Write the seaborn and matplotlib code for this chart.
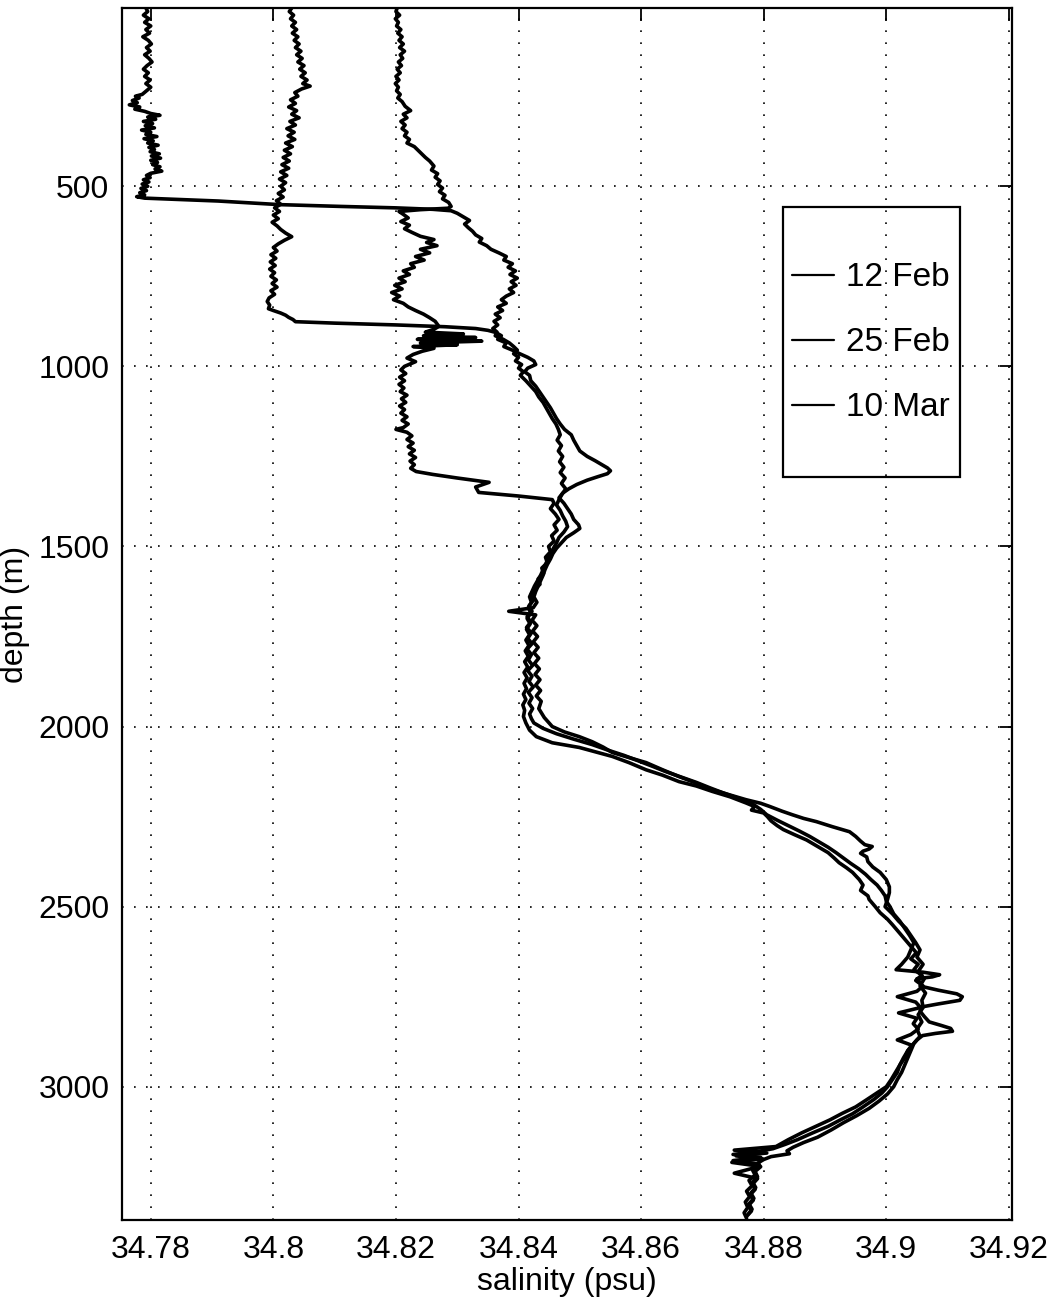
import matplotlib
matplotlib.use("Agg")
import matplotlib.pyplot as plt
from matplotlib.patches import Rectangle
import pandas as pd
import seaborn as sns

# ---------------------------------------------------------------------------
# Salinity profiles: (depth in m, salinity in psu), one per survey date
# ---------------------------------------------------------------------------
dates = ["12 Feb", "25 Feb", "10 Mar"]

profile_12feb = [
    (5, 34.7792), (15, 34.7795), (25, 34.7788), (35, 34.7797), (45, 34.7790), (55, 34.7800),
    (65, 34.7792), (75, 34.7798), (85, 34.7787), (95, 34.7796), (105, 34.7801), (115, 34.7793),
    (125, 34.7799), (135, 34.7790), (145, 34.7797), (155, 34.7802), (165, 34.7794), (175, 34.7788),
    (185, 34.7796), (195, 34.7790), (205, 34.7799), (215, 34.7792), (225, 34.7800), (235, 34.7793),
    (245, 34.7786), (250, 34.7775), (255, 34.7781), (262, 34.7770), (268, 34.7778), (274, 34.7765),
    (280, 34.7782), (286, 34.7774), (292, 34.7790), (298, 34.7800), (303, 34.7815), (308, 34.7795),
    (314, 34.7808), (320, 34.7788), (326, 34.7803), (332, 34.7791), (338, 34.7806), (344, 34.7785),
    (350, 34.7800), (356, 34.7792), (362, 34.7810), (368, 34.7789), (374, 34.7804), (380, 34.7795),
    (386, 34.7812), (392, 34.7797), (398, 34.7806), (404, 34.7799), (410, 34.7814), (416, 34.7801),
    (422, 34.7816), (428, 34.7800), (434, 34.7811), (440, 34.7803), (446, 34.7815), (452, 34.7807),
    (458, 34.7818), (464, 34.7800), (470, 34.7793), (476, 34.7799), (482, 34.7788), (488, 34.7797),
    (494, 34.7786), (500, 34.7795), (506, 34.7784), (512, 34.7793), (518, 34.7782), (524, 34.7790),
    (529, 34.7777), (533, 34.7790), (537, 34.7850), (541, 34.7910), (546, 34.7960), (551, 34.8010),
    (556, 34.8110), (560, 34.8200), (564, 34.8260), (568, 34.8290), (575, 34.8300), (585, 34.8310),
    (595, 34.8320), (605, 34.8312), (615, 34.8318), (625, 34.8325), (635, 34.8330), (645, 34.8340),
    (655, 34.8336), (665, 34.8348), (675, 34.8355), (685, 34.8368), (695, 34.8380), (705, 34.8376),
    (715, 34.8390), (725, 34.8383), (735, 34.8395), (745, 34.8386), (755, 34.8398), (765, 34.8388),
    (775, 34.8396), (785, 34.8385), (795, 34.8392), (805, 34.8380), (815, 34.8372), (825, 34.8380),
    (835, 34.8366), (845, 34.8374), (855, 34.8362), (865, 34.8370), (875, 34.8360), (885, 34.8366),
    (895, 34.8358), (905, 34.8365), (915, 34.8362), (925, 34.8375), (935, 34.8385), (945, 34.8392),
    (955, 34.8398), (965, 34.8392), (975, 34.8400), (985, 34.8395), (995, 34.8405), (1005, 34.8400),
    (1015, 34.8408), (1025, 34.8403), (1040, 34.8412), (1055, 34.8420), (1070, 34.8428),
    (1085, 34.8433), (1100, 34.8440), (1115, 34.8445), (1130, 34.8450), (1145, 34.8455),
    (1160, 34.8461), (1175, 34.8465), (1190, 34.8468), (1205, 34.8463), (1220, 34.8470),
    (1235, 34.8465), (1250, 34.8472), (1265, 34.8467), (1280, 34.8474), (1295, 34.8468),
    (1310, 34.8476), (1325, 34.8470), (1340, 34.8477), (1355, 34.8471), (1370, 34.8466),
    (1385, 34.8462), (1400, 34.8468), (1415, 34.8472), (1430, 34.8477), (1445, 34.8480),
    (1460, 34.8474), (1475, 34.8466), (1490, 34.8462), (1505, 34.8457), (1520, 34.8452),
    (1535, 34.8448), (1550, 34.8444), (1565, 34.8440), (1580, 34.8436), (1595, 34.8431),
    (1610, 34.8426), (1625, 34.8422), (1640, 34.8418), (1655, 34.8421), (1670, 34.8416),
    (1685, 34.8420), (1700, 34.8414), (1715, 34.8419), (1730, 34.8413), (1745, 34.8418),
    (1760, 34.8412), (1775, 34.8417), (1790, 34.8411), (1805, 34.8416), (1820, 34.8410),
    (1835, 34.8415), (1850, 34.8409), (1865, 34.8414), (1880, 34.8409), (1895, 34.8413),
    (1910, 34.8408), (1925, 34.8412), (1940, 34.8407), (1955, 34.8410), (1972, 34.8408),
    (1990, 34.8412), (2010, 34.8418), (2028, 34.8429), (2045, 34.8455), (2058, 34.8499),
    (2070, 34.8525), (2083, 34.8553), (2100, 34.8580), (2120, 34.8608), (2135, 34.8635),
    (2153, 34.8662), (2165, 34.8690), (2180, 34.8716), (2195, 34.8745), (2212, 34.8771),
    (2222, 34.8785), (2232, 34.8780), (2240, 34.8800), (2250, 34.8806), (2262, 34.8812),
    (2275, 34.8822), (2286, 34.8832), (2300, 34.8850), (2315, 34.8870), (2333, 34.8888),
    (2350, 34.8905), (2365, 34.8915), (2378, 34.8923), (2392, 34.8935), (2405, 34.8945),
    (2425, 34.8956), (2440, 34.8962), (2455, 34.8958), (2470, 34.8970), (2480, 34.8972),
    (2500, 34.8982), (2517, 34.8990), (2535, 34.9002), (2550, 34.9010), (2572, 34.9021),
    (2590, 34.9030), (2610, 34.9040), (2628, 34.9049), (2645, 34.9040), (2660, 34.9052),
    (2675, 34.9045), (2690, 34.9058), (2705, 34.9048), (2720, 34.9060), (2735, 34.9050),
    (2750, 34.9018), (2765, 34.9048), (2780, 34.9056), (2795, 34.9020), (2810, 34.9050),
    (2825, 34.9044), (2840, 34.9052), (2855, 34.9040), (2870, 34.9018), (2885, 34.9042),
    (2900, 34.9035), (2920, 34.9030), (2940, 34.9022), (2960, 34.9018), (2980, 34.9010),
    (3000, 34.9002), (3017, 34.8993), (3035, 34.8980), (3056, 34.8962), (3075, 34.8945),
    (3092, 34.8925), (3110, 34.8905), (3128, 34.8880), (3147, 34.8855), (3160, 34.8835),
    (3172, 34.8815), (3180, 34.8790), (3188, 34.8750), (3196, 34.8795), (3205, 34.8750),
    (3215, 34.8792), (3225, 34.8785), (3240, 34.8752), (3255, 34.8790), (3270, 34.8782),
    (3285, 34.8786), (3300, 34.8778), (3315, 34.8783), (3330, 34.8775), (3345, 34.8780),
    (3360, 34.8772),
]

profile_25feb = [
    (5, 34.8030), (15, 34.8026), (25, 34.8033), (35, 34.8028), (45, 34.8036), (55, 34.8030),
    (65, 34.8038), (75, 34.8031), (85, 34.8040), (95, 34.8034), (105, 34.8042), (115, 34.8036),
    (125, 34.8045), (135, 34.8038), (145, 34.8047), (155, 34.8040), (165, 34.8050), (175, 34.8043),
    (185, 34.8052), (195, 34.8045), (205, 34.8055), (215, 34.8048), (222, 34.8060), (230, 34.8046),
    (240, 34.8035), (250, 34.8040), (260, 34.8028), (270, 34.8036), (280, 34.8025), (290, 34.8038),
    (300, 34.8030), (310, 34.8042), (320, 34.8027), (330, 34.8036), (340, 34.8022), (350, 34.8034),
    (360, 34.8024), (370, 34.8035), (380, 34.8020), (390, 34.8031), (400, 34.8018), (410, 34.8028),
    (420, 34.8016), (430, 34.8026), (440, 34.8014), (450, 34.8025), (460, 34.8012), (470, 34.8022),
    (480, 34.8010), (490, 34.8020), (500, 34.8012), (510, 34.8018), (520, 34.8008), (530, 34.8016),
    (540, 34.8005), (550, 34.8012), (560, 34.8002), (570, 34.8010), (580, 34.8000), (590, 34.8008),
    (600, 34.7998), (610, 34.8006), (620, 34.8012), (630, 34.8020), (640, 34.8030), (650, 34.8018),
    (660, 34.8008), (670, 34.8000), (680, 34.8006), (690, 34.7996), (700, 34.8004), (710, 34.7995),
    (720, 34.8003), (730, 34.7994), (740, 34.8002), (750, 34.7996), (760, 34.8005), (770, 34.7998),
    (780, 34.8006), (790, 34.7996), (800, 34.8002), (810, 34.7993), (820, 34.7990), (830, 34.7994),
    (840, 34.7992), (845, 34.8000), (852, 34.8012), (858, 34.8020), (864, 34.8025), (870, 34.8032),
    (876, 34.8036), (880, 34.8100), (885, 34.8200), (890, 34.8280), (895, 34.8330), (900, 34.8350),
    (906, 34.8363), (915, 34.8372), (925, 34.8366), (935, 34.8380), (945, 34.8376), (955, 34.8390),
    (965, 34.8402), (975, 34.8415), (985, 34.8425), (995, 34.8428), (1005, 34.8415), (1015, 34.8410),
    (1025, 34.8418), (1040, 34.8420), (1055, 34.8428), (1070, 34.8434), (1085, 34.8440),
    (1100, 34.8446), (1115, 34.8452), (1130, 34.8457), (1145, 34.8462), (1160, 34.8468),
    (1175, 34.8475), (1190, 34.8486), (1205, 34.8490), (1220, 34.8495), (1235, 34.8500),
    (1250, 34.8512), (1262, 34.8525), (1272, 34.8535), (1282, 34.8545), (1290, 34.8550),
    (1298, 34.8545), (1306, 34.8530), (1316, 34.8512), (1328, 34.8495), (1340, 34.8482),
    (1352, 34.8472), (1365, 34.8466), (1380, 34.8474), (1395, 34.8480), (1410, 34.8486),
    (1425, 34.8490), (1440, 34.8498), (1450, 34.8500), (1462, 34.8490), (1475, 34.8478),
    (1490, 34.8470), (1505, 34.8462), (1520, 34.8456), (1535, 34.8452), (1550, 34.8447),
    (1565, 34.8443), (1580, 34.8440), (1595, 34.8436), (1610, 34.8432), (1625, 34.8428),
    (1640, 34.8425), (1655, 34.8430), (1670, 34.8424), (1680, 34.8384), (1690, 34.8428),
    (1705, 34.8422), (1720, 34.8430), (1735, 34.8423), (1750, 34.8431), (1765, 34.8424),
    (1780, 34.8432), (1795, 34.8425), (1810, 34.8433), (1825, 34.8426), (1840, 34.8434),
    (1855, 34.8427), (1870, 34.8435), (1885, 34.8428), (1900, 34.8436), (1915, 34.8429),
    (1930, 34.8437), (1950, 34.8433), (1975, 34.8442), (2000, 34.8455), (2015, 34.8475),
    (2028, 34.8499), (2042, 34.8520), (2057, 34.8538), (2072, 34.8553), (2086, 34.8580),
    (2100, 34.8608), (2120, 34.8635), (2139, 34.8662), (2157, 34.8690), (2175, 34.8716),
    (2190, 34.8745), (2203, 34.8771), (2213, 34.8795), (2222, 34.8810), (2235, 34.8830),
    (2245, 34.8847), (2255, 34.8865), (2264, 34.8886), (2278, 34.8912), (2292, 34.8940),
    (2305, 34.8950), (2318, 34.8958), (2328, 34.8965), (2333, 34.8977), (2340, 34.8972),
    (2346, 34.8962), (2352, 34.8958), (2362, 34.8968), (2375, 34.8970), (2390, 34.8978),
    (2405, 34.8990), (2425, 34.9000), (2445, 34.9005), (2461, 34.9005), (2480, 34.9002),
    (2500, 34.8998), (2520, 34.9010), (2540, 34.9020), (2560, 34.9032), (2580, 34.9040),
    (2600, 34.9048), (2620, 34.9055), (2640, 34.9050), (2660, 34.9060), (2680, 34.9052),
    (2700, 34.9062), (2720, 34.9055), (2740, 34.9064), (2760, 34.9058), (2780, 34.9060),
    (2800, 34.9052), (2820, 34.9058), (2840, 34.9050), (2860, 34.9055), (2880, 34.9045),
    (2900, 34.9040), (2920, 34.9035), (2940, 34.9030), (2960, 34.9025), (2980, 34.9018),
    (3000, 34.9012), (3020, 34.9002), (3040, 34.8988), (3060, 34.8972), (3080, 34.8952),
    (3100, 34.8930), (3120, 34.8910), (3140, 34.8888), (3155, 34.8865), (3168, 34.8848),
    (3178, 34.8838), (3186, 34.8842), (3194, 34.8812), (3202, 34.8800), (3212, 34.8790),
    (3222, 34.8795), (3235, 34.8786), (3250, 34.8790), (3265, 34.8782), (3280, 34.8787),
    (3295, 34.8779), (3310, 34.8784), (3325, 34.8776), (3340, 34.8781), (3355, 34.8774),
]

profile_10mar = [
    (5, 34.8202), (15, 34.8200), (25, 34.8206), (35, 34.8199), (45, 34.8204), (55, 34.8201),
    (65, 34.8208), (75, 34.8203), (85, 34.8210), (95, 34.8205), (105, 34.8212), (115, 34.8206),
    (125, 34.8214), (135, 34.8207), (145, 34.8211), (155, 34.8204), (165, 34.8209), (175, 34.8202),
    (185, 34.8207), (195, 34.8200), (205, 34.8205), (215, 34.8199), (225, 34.8204), (235, 34.8201),
    (245, 34.8207), (255, 34.8203), (265, 34.8210), (278, 34.8215), (290, 34.8224), (300, 34.8212),
    (310, 34.8218), (320, 34.8208), (330, 34.8215), (340, 34.8210), (350, 34.8218), (360, 34.8214),
    (370, 34.8222), (380, 34.8218), (390, 34.8230), (400, 34.8236), (410, 34.8242), (420, 34.8248),
    (430, 34.8255), (444, 34.8262), (455, 34.8258), (465, 34.8268), (475, 34.8264), (485, 34.8272),
    (495, 34.8268), (505, 34.8276), (515, 34.8271), (525, 34.8280), (535, 34.8276), (545, 34.8286),
    (556, 34.8290), (561, 34.8285), (565, 34.8240), (570, 34.8205), (578, 34.8212), (588, 34.8220),
    (598, 34.8208), (608, 34.8222), (618, 34.8214), (628, 34.8226), (639, 34.8240), (648, 34.8262),
    (656, 34.8250), (665, 34.8267), (675, 34.8240), (685, 34.8255), (695, 34.8232), (705, 34.8246),
    (715, 34.8224), (725, 34.8230), (735, 34.8212), (745, 34.8222), (755, 34.8205), (765, 34.8215),
    (775, 34.8198), (785, 34.8210), (795, 34.8193), (805, 34.8206), (815, 34.8196), (825, 34.8212),
    (835, 34.8220), (845, 34.8232), (855, 34.8245), (865, 34.8255), (875, 34.8264), (889, 34.8270),
    (897, 34.8262), (905, 34.8248), (910, 34.8310), (915, 34.8245), (920, 34.8330), (925, 34.8235),
    (930, 34.8340), (935, 34.8240), (940, 34.8300), (945, 34.8228), (950, 34.8262), (958, 34.8243),
    (967, 34.8228), (977, 34.8218), (987, 34.8232), (1000, 34.8214), (1010, 34.8208), (1020, 34.8216),
    (1030, 34.8206), (1040, 34.8214), (1050, 34.8205), (1060, 34.8213), (1070, 34.8207),
    (1080, 34.8218), (1090, 34.8209), (1100, 34.8216), (1110, 34.8206), (1120, 34.8214),
    (1130, 34.8208), (1140, 34.8218), (1150, 34.8210), (1160, 34.8220), (1170, 34.8212),
    (1175, 34.8200), (1183, 34.8218), (1193, 34.8226), (1203, 34.8218), (1213, 34.8228),
    (1223, 34.8220), (1233, 34.8230), (1243, 34.8222), (1253, 34.8232), (1263, 34.8223),
    (1273, 34.8230), (1283, 34.8224), (1292, 34.8233), (1300, 34.8260), (1310, 34.8300),
    (1322, 34.8352), (1335, 34.8330), (1350, 34.8335), (1360, 34.8400), (1370, 34.8455),
    (1380, 34.8458), (1395, 34.8452), (1410, 34.8460), (1425, 34.8466), (1440, 34.8458),
    (1455, 34.8463), (1470, 34.8454), (1485, 34.8458), (1500, 34.8449), (1515, 34.8452),
    (1530, 34.8444), (1545, 34.8447), (1560, 34.8438), (1575, 34.8441), (1590, 34.8432),
    (1605, 34.8435), (1620, 34.8426), (1635, 34.8420), (1650, 34.8424), (1665, 34.8417),
    (1680, 34.8422), (1695, 34.8414), (1710, 34.8420), (1725, 34.8413), (1740, 34.8421),
    (1755, 34.8415), (1770, 34.8422), (1785, 34.8414), (1800, 34.8421), (1815, 34.8416),
    (1830, 34.8423), (1845, 34.8415), (1860, 34.8422), (1875, 34.8417), (1890, 34.8424),
    (1905, 34.8416), (1920, 34.8422), (1935, 34.8417), (1950, 34.8423), (1965, 34.8418),
    (1978, 34.8421), (1990, 34.8425), (2005, 34.8440), (2020, 34.8462), (2035, 34.8490),
    (2050, 34.8520), (2065, 34.8545), (2080, 34.8572), (2095, 34.8595), (2110, 34.8618),
    (2125, 34.8640), (2140, 34.8665), (2155, 34.8690), (2170, 34.8712), (2185, 34.8735),
    (2200, 34.8760), (2215, 34.8782), (2230, 34.8795), (2245, 34.8805), (2260, 34.8822),
    (2275, 34.8840), (2290, 34.8858), (2305, 34.8875), (2320, 34.8890), (2335, 34.8905),
    (2350, 34.8918), (2365, 34.8930), (2380, 34.8942), (2395, 34.8955), (2410, 34.8966),
    (2425, 34.8975), (2440, 34.8985), (2455, 34.8992), (2470, 34.8998), (2485, 34.9000),
    (2500, 34.9006), (2520, 34.9012), (2540, 34.9022), (2560, 34.9030), (2580, 34.9038),
    (2600, 34.9045), (2620, 34.9040), (2640, 34.9035), (2660, 34.9025), (2675, 34.9016),
    (2682, 34.9060), (2689, 34.9087), (2695, 34.9075), (2700, 34.9050), (2710, 34.9055),
    (2722, 34.9059), (2732, 34.9085), (2742, 34.9115), (2750, 34.9124), (2760, 34.9120),
    (2770, 34.9085), (2778, 34.9059), (2790, 34.9055), (2805, 34.9062), (2820, 34.9070),
    (2830, 34.9090), (2838, 34.9105), (2846, 34.9108), (2852, 34.9080), (2858, 34.9059),
    (2870, 34.9050), (2885, 34.9042), (2900, 34.9035), (2920, 34.9028), (2940, 34.9022),
    (2960, 34.9015), (2980, 34.9008), (3000, 34.9000), (3017, 34.8985), (3036, 34.8968),
    (3056, 34.8950), (3074, 34.8928), (3092, 34.8908), (3110, 34.8885), (3128, 34.8862),
    (3147, 34.8840), (3166, 34.8820), (3176, 34.8752), (3184, 34.8805), (3192, 34.8755),
    (3200, 34.8798), (3210, 34.8748), (3220, 34.8790), (3232, 34.8782), (3245, 34.8786),
    (3260, 34.8776), (3275, 34.8781), (3290, 34.8772), (3305, 34.8777), (3320, 34.8770),
    (3335, 34.8774), (3350, 34.8768), (3365, 34.8772),
]

x_ticks = [34.78, 34.80, 34.82, 34.84, 34.86, 34.88, 34.90, 34.92]
x_tick_labels = ["34.78", "34.8", "34.82", "34.84", "34.86", "34.88", "34.9", "34.92"]
y_ticks = [500, 1000, 1500, 2000, 2500, 3000]

# ---------------------------------------------------------------------------
frames = []
for name, prof in zip(dates, [profile_12feb, profile_25feb, profile_10mar]):
    d, s = zip(*prof)
    frames.append(pd.DataFrame({"depth": d, "salinity": s, "date": name}))
df = pd.concat(frames, ignore_index=True)

sns.set_style("white")
plt.rcParams["font.family"] = ["Liberation Sans Narrow", "Liberation Sans", "DejaVu Sans"]
plt.rcParams["text.color"] = "black"
plt.rcParams["axes.labelcolor"] = "black"

FS = 23

fig = plt.figure(figsize=(10.55, 13.04), dpi=100)
ax = fig.add_axes([0.1156, 0.0644, 0.8436, 0.9295])

sns.lineplot(data=df, x="salinity", y="depth", hue="date", hue_order=dates,
             palette=["black", "black", "black"], estimator=None, sort=False,
             linewidth=2.6, legend=False, ax=ax)

ax.set_xlim(34.7753, 34.9205)
ax.set_ylim(3370, 5)
ax.set_xticks(x_ticks)
ax.set_xticklabels(x_tick_labels)
ax.set_yticks(y_ticks)
ax.set_yticklabels([str(v) for v in y_ticks])

ax.grid(True, color="black", linestyle=(0, (1, 6.2)), linewidth=1.2)
ax.tick_params(direction="in", length=9, width=1.3, top=True, right=True,
               labelsize=FS, colors="black")
ax.tick_params(axis="x", pad=11)
ax.tick_params(axis="y", pad=9)
for sp in ax.spines.values():
    sp.set_visible(True)
    sp.set_color("black")
    sp.set_linewidth(1.6)

ax.set_xlabel("salinity (psu)", fontsize=FS, labelpad=1)
ax.set_ylabel("depth (m)", fontsize=FS, labelpad=6)

# legend: frameless entries inside a drawn box
handles = ax.get_lines()[:3]
leg = ax.legend(handles, dates, loc="center left", bbox_to_anchor=(0.7528, 0.7236),
                frameon=False, fontsize=FS + 1, handlelength=1.25, handletextpad=0.36,
                labelspacing=1.02, borderpad=0, borderaxespad=0)
for ln in leg.get_lines():
    ln.set_linewidth(1.6)
ax.add_patch(Rectangle((0.743, 0.613), 0.1985, 0.223, transform=ax.transAxes,
                       fill=False, edgecolor="black", linewidth=1.6, zorder=5))

fig.savefig("out.png", dpi=100, facecolor="white")
